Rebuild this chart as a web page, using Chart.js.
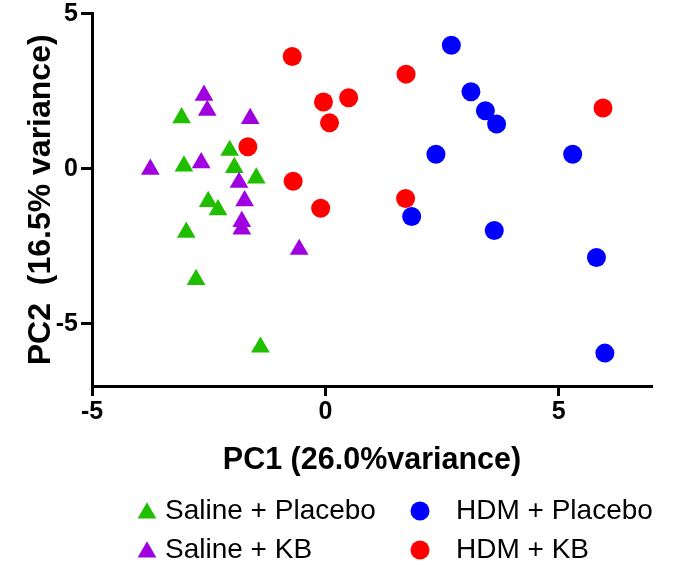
<!DOCTYPE html>
<html>
<head>
<meta charset="utf-8">
<script src="https://cdn.jsdelivr.net/npm/chart.js@4.4.1/dist/chart.umd.min.js"></script>
<style>
html,body{margin:0;padding:0;background:#fff;}
#wrap{width:675px;height:566px;position:relative;}
</style>
</head>
<body>
<div id="wrap"><canvas id="c" width="675" height="566"></canvas></div>
<script>
// ---- data (PC1, PC2 scores) ----
const seriesNames = ['Saline + Placebo', 'Saline + KB', 'HDM + Placebo', 'HDM + KB'];
const salinePlaceboX = [-3.08, -2.05, -3.03, -1.95, -1.48, -2.51, -2.30, -2.98, -2.77, -1.39];
const salinePlaceboY = [1.64, 0.59, 0.09, 0.04, -0.30, -1.06, -1.32, -2.05, -3.57, -5.75];
const salineKBX = [-2.60, -2.53, -1.61, -3.75, -2.66, -1.85, -1.73, -1.79, -1.79, -0.56];
const salineKBY = [2.37, 1.88, 1.62, -0.02, 0.19, -0.44, -1.03, -1.70, -1.94, -2.60];
const hdmPlaceboX = [2.70, 3.12, 3.43, 3.67, 2.37, 5.30, 1.85, 3.62, 5.81, 5.99];
const hdmPlaceboY = [3.98, 2.48, 1.87, 1.44, 0.47, 0.47, -1.54, -1.99, -2.86, -5.94];
const hdmKBX = [-0.71, -0.04, 0.50, 0.09, -1.66, -0.69, -0.10, 1.73, 5.95, 1.72];
const hdmKBY = [3.62, 2.15, 2.29, 1.48, 0.71, -0.40, -1.27, 3.05, 1.96, -0.96];
const xTicks = [-5, 0, 5];
const yTicks = [5, 0, -5];
const xTitle = 'PC1 (26.0%variance)';
const yTitle = 'PC2  (16.5% variance)';

const colors = ['#1fbf00', '#a000e0', '#0000ff', '#ff0000'];
const styles = ['triangle', 'triangle', 'circle', 'circle'];
const FONT = '"Liberation Sans", Arial, sans-serif';

function pts(xs, ys) { return xs.map((x, i) => ({x: x, y: ys[i]})); }

const seriesData = [
  pts(salinePlaceboX, salinePlaceboY),
  pts(salineKBX, salineKBY),
  pts(hdmPlaceboX, hdmPlaceboY),
  pts(hdmKBX, hdmKBY)
];
const drawOrder = [2, 1, 3, 4];

const datasets = seriesNames.map((name, i) => ({
  label: name,
  data: seriesData[i],
  pointStyle: styles[i],
  pointRadius: styles[i] === 'triangle' ? 10.8 : 9.5,
  pointHoverRadius: styles[i] === 'triangle' ? 10.8 : 9.5,
  backgroundColor: colors[i],
  borderColor: colors[i],
  borderWidth: 0,
  order: drawOrder[i]
}));

const legendPlugin = {
  id: 'gridLegend',
  afterDraw(chart) {
    const ctx = chart.ctx;
    const items = [
      {i: 0, mx: 147, tx: 165, y: 511},
      {i: 1, mx: 147, tx: 165, y: 550},
      {i: 2, mx: 420, tx: 456, y: 511},
      {i: 3, mx: 420, tx: 456, y: 550}
    ];
    ctx.save();
    items.forEach(it => {
      ctx.fillStyle = colors[it.i];
      ctx.beginPath();
      if (styles[it.i] === 'triangle') {
        const r = 10.8;
        for (let k = 0; k < 3; k++) {
          const a = k * 2 * Math.PI / 3;
          const px = it.mx + Math.sin(a) * r;
          const py = it.y - Math.cos(a) * r + 2;
          if (k === 0) ctx.moveTo(px, py); else ctx.lineTo(px, py);
        }
        ctx.closePath();
      } else {
        ctx.arc(it.mx, it.y, 9.5, 0, Math.PI * 2);
      }
      ctx.fill();
      ctx.fillStyle = '#000';
      ctx.font = '28px ' + FONT;
      ctx.textBaseline = 'middle';
      ctx.textAlign = 'left';
      ctx.fillText(seriesNames[it.i], it.tx, it.y);
    });
    ctx.restore();
  }
};

new Chart(document.getElementById('c'), {
  type: 'scatter',
  data: {datasets: datasets},
  options: {
    responsive: false,
    animation: false,
    events: [],
    layout: {padding: {left: 0, right: 23, top: 11, bottom: 0}},
    plugins: {legend: {display: false}, tooltip: {enabled: false}},
    scales: {
      x: {
        type: 'linear', position: 'bottom', min: -5, max: 7,
        afterBuildTicks: s => { s.ticks = xTicks.map(v => ({value: v})); },
        afterFit: s => { s.height = 180; },
        grid: {display: true, drawOnChartArea: false, drawTicks: true, tickLength: 10, tickWidth: 3, tickColor: '#000'},
        border: {display: true, color: '#000', width: 3},
        ticks: {color: '#000', padding: 4, font: {family: FONT, size: 25, weight: 'bold', lineHeight: 1}},
        title: {display: true, text: xTitle, color: '#000', padding: {top: 0, bottom: 87}, font: {family: FONT, size: 30.5, weight: 'bold', lineHeight: 1.2}}
      },
      y: {
        type: 'linear', position: 'left', min: -7, max: 5,
        afterBuildTicks: s => { s.ticks = yTicks.map(v => ({value: v})); },
        afterFit: s => { s.width = 92; },
        grid: {display: true, drawOnChartArea: false, drawTicks: true, tickLength: 11, tickWidth: 3, tickColor: '#000'},
        border: {display: true, color: '#000', width: 3},
        ticks: {color: '#000', padding: 3, font: {family: FONT, size: 25, weight: 'bold', lineHeight: 0.85}},
        title: {display: true, text: yTitle, color: '#000', padding: {top: 22, bottom: 0}, font: {family: FONT, size: 32, weight: 'bold', lineHeight: 1.2}}
      }
    }
  },
  plugins: [legendPlugin]
});
</script>
</body>
</html>
